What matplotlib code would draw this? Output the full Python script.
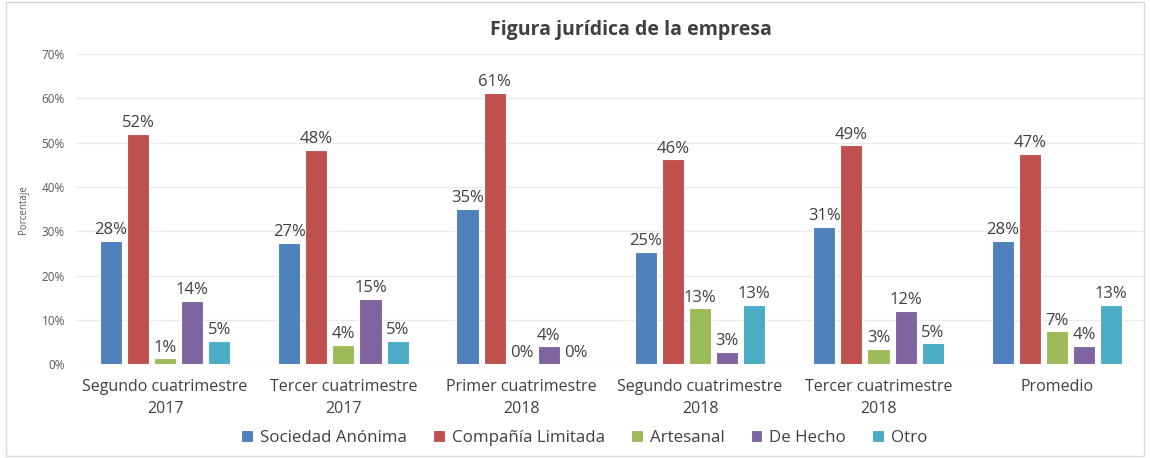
import numpy as np
import matplotlib.pyplot as plt
from matplotlib.ticker import FuncFormatter
from matplotlib.patches import Rectangle

plt.rcParams['font.family'] = ['Open Sans', 'DejaVu Sans']

categories = ['Segundo cuatrimestre\n2017', 'Tercer cuatrimestre\n2017',
              'Primer cuatrimestre\n2018', 'Segundo cuatrimestre\n2018',
              'Tercer cuatrimestre\n2018', 'Promedio']
series_names = ['Sociedad Anónima', 'Compañía Limitada', 'Artesanal', 'De Hecho', 'Otro']
sociedad_anonima = [27.8, 27.4, 35.0, 25.3, 30.9, 27.8]
compania_limitada = [51.9, 48.3, 61.2, 46.2, 49.4, 47.4]
artesanal = [1.3, 4.4, 0.0, 12.6, 3.4, 7.4]
de_hecho = [14.2, 14.7, 4.0, 2.7, 12.0, 4.1]
otro = [5.2, 5.2, 0.0, 13.4, 4.7, 13.4]
colors = ['#4F81BD', '#C0504D', '#9BBB59', '#8064A2', '#4BACC6']

series = [sociedad_anonima, compania_limitada, artesanal, de_hecho, otro]

fig = plt.figure(figsize=(11.5, 4.58), dpi=100)
fig.patches.append(Rectangle((0.005, 0.005), 0.99, 0.99, transform=fig.transFigure,
                             fill=False, edgecolor='#D9D9D9', linewidth=1))
ax = fig.add_axes([0.066, 0.205, 0.9305, 0.677])

x = np.arange(len(categories))
pitch = 0.152
width = 0.124
for i, (name, vals, c) in enumerate(zip(series_names, series, colors)):
    bars = ax.bar(x + (i - 2) * pitch, vals, width, color=c, label=name,
                  edgecolor='white', linewidth=0.8, zorder=3)
    ax.bar_label(bars, labels=[f'{round(v):d}%' for v in vals], padding=2,
                 fontsize=12, color='#404040')

ax.set_xlim(-0.5, len(categories) - 0.5)
ax.set_ylim(0, 70)
ax.set_yticks(np.arange(0, 71, 10))
ax.yaxis.set_major_formatter(FuncFormatter(lambda v, p: f'{v:.0f}%'))
ax.grid(axis='y', color='#EBEBEB', linewidth=1, zorder=0)
for s in ax.spines.values():
    s.set_visible(False)
ax.tick_params(axis='both', length=0)
ax.tick_params(axis='y', labelsize=8.5, labelcolor='#595959', pad=8)
ax.set_xticks(x)
ax.set_xticklabels(categories, fontsize=11.5, color='#404040', linespacing=1.45)
ax.tick_params(axis='x', pad=11)
ax.set_ylabel('Porcentaje', fontsize=7, color='#595959', labelpad=9)

fig.text(0.549, 0.935, 'Figura jurídica de la empresa', ha='center', va='center',
         fontsize=14, fontweight='bold', color='#404040')

fig.legend(loc='center', bbox_to_anchor=(0.508, 0.044), ncol=5, frameon=False,
           fontsize=12.2, handlelength=0.7, handleheight=0.7, handletextpad=0.4,
           columnspacing=1.55, labelcolor='#404040')

fig.savefig('out.png', dpi=100)
